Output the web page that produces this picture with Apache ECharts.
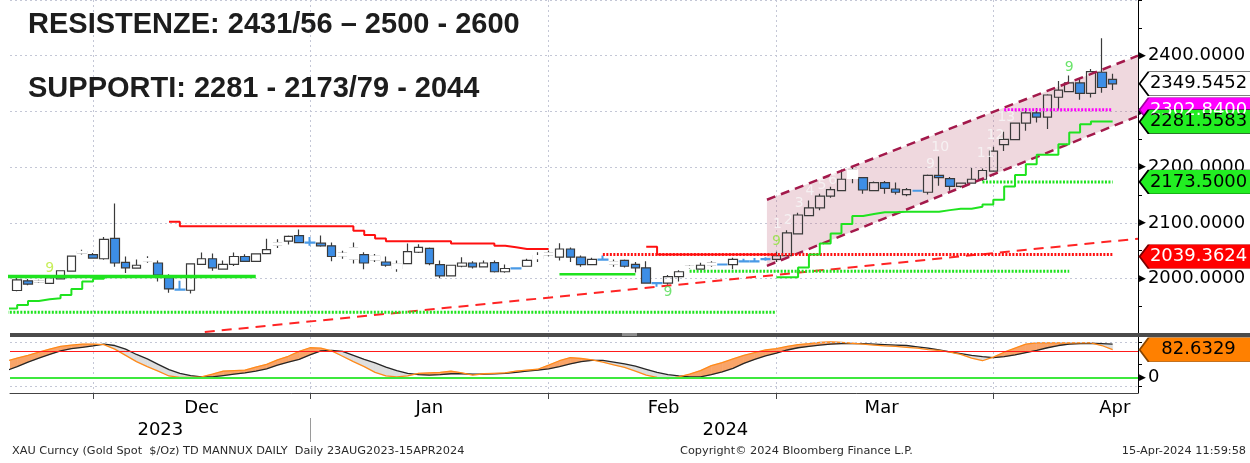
<!DOCTYPE html>
<html>
<head>
<meta charset="utf-8">
<script src="https://cdn.jsdelivr.net/npm/echarts@6/dist/echarts.min.js"></script>
<style>
html, body { margin: 0; padding: 0; background: #fff; }
#chart { width: 1250px; height: 463px; }
</style>
</head>
<body>
<div id="chart"></div>
<script>
'use strict';

// trading days on the chart (XAU daily), day 0 sits just left of the plot
var holidays = ['2023-12-25', '2024-01-01', '2024-03-29'];
var days = [];
(function() {
    var d = new Date(Date.UTC(2023, 10, 20));
    var last = Date.UTC(2024, 3, 15);
    while (d.getTime() <= last) {
        var s = d.toISOString().slice(0, 10);
        var wd = d.getUTCDay();
        if (wd !== 0 && wd !== 6 && holidays.indexOf(s) < 0) days.push(s);
        d.setUTCDate(d.getUTCDate() + 1);
    }
})();

// OHLC, one value per day (index = day)
var opens = [null,
    1978.5, 1995.9, 1994.5, 1991.3, 1999.4, 2013.4, 2046, 2043.1, 2035.5, 2072.2,
    2029.1, 2018.6, 2031.5, 2027.9, 2001.7, 1980.2, 1979, 2025.6, 2035.5, 2016.9,
    2025.6, 2039.6, 2030.9, 2044.8, 2060, 2067, 2076.9, 2064.6, 2063.5, 2058.8,
    2041, 2035, 2043.1, 2034, 2029.7, 2018, 2026.8, 2047.2, 2054.1, 2025,
    2004.7, 2022.1, 2027.9, 2021, 2028.5, 2012.2, 2018.5, 2022.1, 2036, 2043,
    2038.4, 2053, 2038.4, 2025, 2034, 2026, 2032.6, 2025.6, 2019.2, 1991.8,
    1991.8, 2003.5, 2020, 2016.9, 2024, 2025.3, 2025, 2030.9, 2030.9, 2035,
    2034.3, 2041.3, 2080.3, 2112.9, 2126.9, 2147.9, 2157.8, 2180, 2181.1, 2157.8,
    2172.3, 2160.7, 2150.8, 2157.8, 2154.9, 2185.1, 2179.3, 2165.3, 2171.2, 2178.2,
    2192.7, 2240.4, 2249.2, 2278.9, 2297.5, 2289.9, 2325.4, 2335.4, 2351.1, 2332.4,
    2370.3, 2357.5];
var closes = [null,
    1997.7, 1990.1, 1995.5, 2001.7, 2014, 2040.2, 2048.5, 2036.7, 2070.4, 2027.9,
    2019.2, 2023.9, 2035.5, 2006.4, 1981.4, 1979.8, 2026.2, 2035.5, 2019.2, 2025.6,
    2039.6, 2030.9, 2044.2, 2051.8, 2064, 2075.7, 2064.6, 2064.3, 2058.8, 2039.6,
    2045, 2055, 2027.9, 2040, 2023.9, 2026, 2048.3, 2055.9, 2026.8, 2004.7,
    2023.9, 2027.9, 2021, 2027.9, 2012.2, 2018, 2018.2, 2032.6, 2041, 2046,
    2053, 2038.4, 2025, 2034.3, 2033.6, 2030, 2022.1, 2019.2, 1991.8, 1991.5,
    2003.5, 2012.2, 2022, 2023.9, 2027.5, 2025, 2034.3, 2030.6, 2030.6, 2034.6,
    2041.3, 2082.1, 2114.1, 2126.9, 2147.9, 2159.5, 2178.2, 2195, 2158.9, 2172.3,
    2161.9, 2154.9, 2159.5, 2157.5, 2185.1, 2181.1, 2165.3, 2171.2, 2178.2, 2193.9,
    2228.8, 2249.8, 2278.9, 2297.5, 2289.9, 2329.5, 2338.3, 2351.1, 2332.4, 2371.4,
    2342.9, 2349.55];
var lows = [null,
    1977.3, 1987.8, 1992.4, 1990.1, 1998.3, 2012.2, 2043, 2035.5, 2033.8, 2021,
    2009.9, 2017.5, 2028.5, 1994.8, 1974.4, 1978, 1973.2, 2025, 2014, 2016.3,
    2022.7, 2029.7, 2030.3, 2044.2, 2054.7, 2061.1, 2064, 2058.8, 2057, 2030.9,
    2035.5, 2026.8, 2016.9, 2029.7, 2021, 2012.2, 2026.2, 2046, 2023.9, 2000.6,
    2004.1, 2020.4, 2018, 2020.4, 2011, 2010.5, 2017.5, 2021.5, 2029.7, 2040,
    2032.6, 2029.7, 2021, 2024.5, 2033, 2021, 2019.8, 2011, 1990.7, 1985.4,
    1988.9, 1994.8, 2018, 2016.3, 2021, 2024, 2016.9, 2030, 2030, 2032,
    2029.7, 2040.7, 2079.2, 2112.3, 2122.8, 2145, 2156.6, 2171, 2152, 2156.6,
    2152, 2151, 2147.9, 2156, 2150.8, 2166.5, 2157.8, 2163.6, 2170.6, 2175.2,
    2191.5, 2228.8, 2248.6, 2265.4, 2280, 2268.4, 2303.3, 2334.2, 2320.8, 2324.9,
    2333.6, 2338.3];
var highs = [null,
    2003.5, 1999.4, 1997.7, 2003.5, 2015, 2041.3, 2051.8, 2046, 2074.5, 2134.5,
    2039.6, 2034.3, 2040.2, 2032.6, 2007.6, 1995.9, 2027.4, 2046.6, 2044.8, 2032.6,
    2046.6, 2043.7, 2044.8, 2071.6, 2070.4, 2077.4, 2087.9, 2074.5, 2077.4, 2064.6,
    2050, 2064.6, 2047.2, 2044.2, 2039.6, 2032.6, 2062.9, 2061.7, 2055.9, 2032.6,
    2024.5, 2038.4, 2030.9, 2032.6, 2032.6, 2025, 2019, 2035.5, 2047.2, 2050,
    2063.5, 2055.9, 2041.3, 2037.3, 2041.3, 2034, 2034.3, 2029.7, 2030.9, 1992.3,
    2006.4, 2015.1, 2024, 2028.5, 2030.9, 2027, 2037.3, 2035.5, 2036.7, 2038,
    2048.3, 2086.7, 2118.2, 2140.3, 2152, 2164.8, 2195.6, 2202, 2182.2, 2174,
    2175.2, 2172.3, 2162.4, 2159, 2186.9, 2218.9, 2182.2, 2172.3, 2198.5, 2197.4,
    2236.4, 2263.7, 2280, 2306.2, 2306.2, 2330.7, 2354.6, 2364.5, 2358.6, 2376.1,
    2431.4, 2367.4];
// days drawn as a blue dash (doji) and days whose body is blanked out
var dojiDays = [16, 28, 47, 55, 60, 66, 68, 69, 70, 84];
var blankBodyDays = [3, 7, 13, 25, 31, 32, 34, 36, 49, 50, 56, 63, 65, 78];

// TD lines
var redStepStart = 15;
var redStepValues = [2102,
    2094, 2094, 2094, 2094, 2094, 2094, 2094, 2094, 2094, 2094, 2094, 2094, 2094, 2094, 2094, 2094,
    2086, 2078, 2072, 2067, 2067, 2067, 2067, 2067, 2067, 2063, 2063, 2063, 2063,
    2059, 2056, 2053, 2053, 2053, 2053];
var redStep2Start = 59;
var redStep2Values = [2057, 2043, 2043, 2043, 2043, 2043, 2043, 2043, 2043, 2043, 2043, 2043, 2043];
var greenStepStart = 0;
var greenStepValues = [1946.4, 1952.3, 1959.8, 1962.8, 1964.5, 1970.3, 1981.3, 1994.8, 1999.5, 2003.5];
var greenStep2Start = 71;
var greenStep2Values = [2002.3, 2002.3, 2019.7, 2043, 2062.9, 2081, 2097.8, 2112.3, 2115.8, 2118.8,
    2118.8, 2120, 2120, 2120, 2120, 2122.8, 2125.2, 2125.2, 2128.7, 2132.8,
    2141.5, 2165, 2186, 2205, 2222, 2222, 2241, 2262, 2277, 2282, 2282, 2281.56];
var greenLevelStart = [0, 51];
var greenLevelEnd = [23, 58];
var greenLevelValue = [2003.5, 2007.5];
var greenDotStart = [0, 63, 90];
var greenDotEnd = [71, 98, 102];
var greenDotValue = [1939.4, 2013, 2173.5];
var redDotStart = 55, redDotEnd = 102, redDotValue = 2043;
var pinkDotStart = 92, pinkDotEnd = 102, pinkDotValue = 2302.84;
var trendDays = [18.3, 104.34];
var trendValues = [1904, 2071.6];
var channelDays = [70.13, 104.34];
var channelUpper = [2141.5, 2400];
var channelLower = [2022.7, 2291.7];

// TD counts
var setupDays = [4, 61, 71, 98];
var setupPrice = [2018.7, 1974.3, 2066.4, 2379];
var countDays = [71.1, 72.1, 73.1, 74.1, 75.2, 76.2, 85.2, 86.1, 90.3, 91.2, 92.2];
var countPrice = [2096.6, 2104.3, 2134.5, 2156, 2166.5, 2176.4, 2204.4, 2235.3, 2224.5, 2257.6, 2289];
var countText = ['1', '2', '3', '4', '5', '6', '9', '10', '11', '12', '13'];

// last-value tags on the price axis
var tagValues = [2349.5452, 2302.84, 2281.5583, 2173.5, 2039.3624];
var oscTagValue = 82.6329;

// oscillator (slow = black, fast = orange), index = day
var oscSlow = [36, 45, 55, 64, 72, 80, 85, 88, 91, 95,
    92, 84, 72, 62, 50, 38, 30, 25, 22, 22,
    25, 28, 31, 35, 40, 48, 55, 61, 71, 80,
    81, 79, 70, 61, 53, 44, 36, 30, 27, 26,
    27, 29, 29, 28, 28, 29, 30, 32, 35, 37,
    40, 45, 51, 56, 59, 59, 55, 51, 46, 39,
    32, 27, 24, 22, 22, 27, 33, 41, 52, 61,
    69, 75, 82, 87, 90, 93, 95, 96, 96, 96,
    95, 94, 93, 92, 89, 86, 82, 78, 74, 70,
    67, 65, 67, 71, 76, 81, 87, 92, 95, 96,
    97, 96, 95];
var oscFast = [57, 64, 70, 77, 84, 90, 93, 95, 95, 94,
    84, 70, 56, 45, 35, 24, 21, 21, 22, 28,
    35, 36, 37, 44, 50, 60, 68, 79, 87, 86,
    80, 68, 56, 45, 32, 24, 22, 24, 30, 31,
    32, 35, 31, 26, 29, 30, 31, 35, 37, 39,
    48, 58, 65, 63, 60, 55, 49, 43, 35, 26,
    21, 18, 22, 28, 36, 47, 54, 62, 70, 76,
    82, 85, 90, 94, 96, 99, 100, 99, 97, 95,
    93, 91, 90, 88, 86, 83, 81, 77, 72, 64,
    58, 66, 77, 86, 95, 98, 98, 98, 98, 98,
    98, 92, 82.63];

// axis labels
var monthLabels = ['Dec', 'Jan', 'Feb', 'Mar', 'Apr'];
var monthLabelAt = [18, 39, 60.6, 80.7, 102.2];
var yearLabels = ['2023', '2024'];
var yearLabelAt = [14.2, 66.3];

var xMin = 0.34, xMax = 104.34;
var axisFont = 'DejaVu Sans';
var gridColor = '#c4c7d6';

drawChart();

function drawChart() {
    var chart = echarts.init(document.getElementById('chart'));

    var monthEnds = [];
    for (var i = 0; i < days.length - 1; i++) {
        if (days[i].substr(5, 2) !== days[i + 1].substr(5, 2)) monthEnds.push(i);
    }

    var candleData = [], blankData = [];
    for (var k = 1; k < days.length; k++) {
        var item = {value: [k, opens[k], closes[k], lows[k], highs[k]]};
        if (dojiDays.indexOf(k) >= 0) {
            item.itemStyle = {borderColor: '#4a9ae6', borderColor0: '#4a9ae6', borderWidth: 2};
        }
        candleData.push(item);
        if (blankBodyDays.indexOf(k) >= 0) {
            var lo = Math.min(opens[k], closes[k]), hi = Math.max(opens[k], closes[k]);
            blankData.push([k, opens[k], closes[k], lo, hi]);
        }
    }

    function steps(start, values) {
        return values.map(function(v, j) { return [start + j, v]; });
    }
    function seg(a, b, v) {
        return [[a, v], [b, v]];
    }
    function line(name, data, color, width, dash, extra) {
        var s = {
            name: name, type: 'line', xAxisIndex: 0, yAxisIndex: 0,
            data: data, symbol: 'none', showSymbol: false, z: 5, silent: true,
            lineStyle: {color: color, width: width, type: dash || 'solid', cap: 'butt'}
        };
        for (var key in extra) s[key] = extra[key];
        return s;
    }
    function nearest(v, at, labels) {
        for (var j = 0; j < at.length; j++) {
            if (Math.abs(at[j] - v) < 0.01) return labels[j];
        }
        return '';
    }

    var tagStyles = [
        {fill: '#ffffff', border: '#000000', text: '#000000'},
        {fill: '#ff00ff', border: '#a000a0', text: '#ffffff'},
        {fill: '#22ee22', border: '#000000', text: '#000000'},
        {fill: '#22ee22', border: '#000000', text: '#000000'},
        {fill: '#ff0000', border: '#7a0000', text: '#ffffff'}
    ];
    var tagPath = 'path://M0,12 L9,0 L112,0 L112,24 L9,24 Z';
    var tagLabel = {
        show: true, position: 'inside', offset: [3, 0],
        fontSize: 18, fontFamily: axisFont,
        formatter: function(p) { return Number(p.value).toFixed(4); }
    };

    var series = [];

    // pink channel fill
    series.push({
        name: 'channel', type: 'custom', xAxisIndex: 0, yAxisIndex: 0, z: 1, silent: true, clip: true,
        encode: {x: 0, y: 1},
        data: [[channelDays[0], channelLower[0]]],
        renderItem: function(params, api) {
            var pts = [
                api.coord([channelDays[0], channelUpper[0]]),
                api.coord([channelDays[1], channelUpper[1]]),
                api.coord([channelDays[1], channelLower[1]]),
                api.coord([channelDays[0], channelLower[0]])
            ];
            return {type: 'polygon', shape: {points: pts}, style: {fill: 'rgba(196,110,134,0.27)'}};
        }
    });

    series.push({
        name: 'XAU', type: 'candlestick', xAxisIndex: 0, yAxisIndex: 0,
        barWidth: 9, z: 3, silent: true,
        itemStyle: {
            color: 'rgba(255,255,255,0)', color0: '#3d8ee6',
            borderColor: '#3a3a3a', borderColor0: '#3a3a3a', borderWidth: 1.2
        },
        data: candleData
    });
    series.push({
        name: 'blank', type: 'candlestick', xAxisIndex: 0, yAxisIndex: 0,
        barWidth: 10, z: 4, silent: true,
        itemStyle: {color: '#ffffff', color0: '#ffffff', borderColor: '#ffffff', borderColor0: '#ffffff', borderWidth: 1.4},
        data: blankData
    });

    series.push(line('chanUp', [[channelDays[0], channelUpper[0]], [channelDays[1], channelUpper[1]]], '#a3194b', 2.5, [9, 6]));
    series.push(line('chanLow', [[channelDays[0], channelLower[0]], [channelDays[1], channelLower[1]]], '#a3194b', 2.5, [9, 6]));

    series.push(line('trend', [[trendDays[0], trendValues[0]], [trendDays[1], trendValues[1]]], '#ff2424', 2, [10, 7]));
    series.push(line('redStep', steps(redStepStart, redStepValues), '#ff1010', 2, null, {step: 'end'}));
    series.push(line('redDot', seg(redDotStart, redDotEnd, redDotValue), '#ff1010', 3, [2, 1.5]));
    series.push(line('redStep2', steps(redStep2Start, redStep2Values), '#ff1010', 2, null, {step: 'end'}));

    for (var g = 0; g < greenDotValue.length; g++) {
        series.push(line('greenDot' + g, seg(greenDotStart[g], greenDotEnd[g], greenDotValue[g]), '#1fe31f', 3, [2, 1.5]));
    }
    series.push(line('greenLevel0', seg(greenLevelStart[0], greenLevelEnd[0], greenLevelValue[0]), '#1fe31f', 3.5));
    series.push(line('greenLevel1', seg(greenLevelStart[1], greenLevelEnd[1], greenLevelValue[1]), '#1fe31f', 2.5));
    series.push(line('greenStep', steps(greenStepStart, greenStepValues), '#1fe31f', 2, null, {step: 'end'}));
    series.push(line('greenStep2', steps(greenStep2Start, greenStep2Values), '#1fe31f', 2, null, {step: 'end'}));

    series.push(line('pinkDot', seg(pinkDotStart, pinkDotEnd, pinkDotValue), '#ff00ff', 3, [2, 1.5], {
        markPoint: {
            symbol: tagPath, symbolSize: [112, 24], symbolOffset: [58, 0], symbolKeepAspect: false,
            silent: true, label: tagLabel,
            data: tagValues.map(function(v, j) {
                return {
                    coord: [xMax - 0.04, v], value: v,
                    itemStyle: {color: tagStyles[j].fill, borderColor: tagStyles[j].border, borderWidth: 1},
                    label: {color: tagStyles[j].text}
                };
            })
        }
    }));

    // TD setup "9" and count numbers
    var setupColors = ['#b9ea2e', '#4fdc4f', '#8fe43a', '#45dd45'];
    series.push({
        type: 'scatter', xAxisIndex: 0, yAxisIndex: 0, z: 6, silent: true,
        symbolSize: 1, itemStyle: {color: 'rgba(0,0,0,0)'},
        label: {show: true, position: 'inside', fontSize: 14, fontFamily: axisFont, formatter: '{b}'},
        data: setupDays.map(function(d, j) {
            return {name: '9', value: [d, setupPrice[j]], label: {color: setupColors[j]}};
        })
    });
    series.push({
        type: 'scatter', xAxisIndex: 0, yAxisIndex: 0, z: 6, silent: true,
        symbolSize: 1, itemStyle: {color: 'rgba(0,0,0,0)'},
        label: {show: true, position: 'inside', fontSize: 14, fontFamily: axisFont, color: '#f7f7f7', formatter: '{b}'},
        data: countDays.map(function(d, j) {
            return {name: countText[j], value: [d, countPrice[j]]};
        })
    });

    // oscillator panel: fill between the two lines, orange when fast is above
    var slowPts = [], fastPts = [], segData = [];
    for (var t = 0; t < oscSlow.length; t++) {
        slowPts.push([t, oscSlow[t]]);
        fastPts.push([t, oscFast[t]]);
        if (t < oscSlow.length - 1) segData.push([t, oscSlow[t]]);
    }
    series.push({
        name: 'oscFill', type: 'custom', xAxisIndex: 1, yAxisIndex: 1, z: 3, silent: true, clip: true,
        encode: {x: 0, y: 1},
        data: segData,
        renderItem: function(params, api) {
            var n = params.dataIndex;
            var s0 = oscSlow[n], s1 = oscSlow[n + 1], f0 = oscFast[n], f1 = oscFast[n + 1];
            var d0 = f0 - s0, d1 = f1 - s1;
            var children = [];
            function poly(pts, up) {
                var fill = up ? '#f9a468' : '#dedede';
                children.push({
                    type: 'polygon',
                    shape: {points: pts.map(function(p) { return api.coord(p); })},
                    style: {fill: fill, stroke: fill, lineWidth: 0.6}
                });
            }
            if (d0 * d1 >= 0) {
                poly([[n, f0], [n + 1, f1], [n + 1, s1], [n, s0]], d0 + d1 > 0);
            } else {
                var r = d0 / (d0 - d1);
                var xc = n + r, yc = s0 + r * (s1 - s0);
                poly([[n, f0], [xc, yc], [n, s0]], d0 > 0);
                poly([[xc, yc], [n + 1, f1], [n + 1, s1]], d1 > 0);
            }
            return {type: 'group', children: children};
        }
    });
    series.push({
        name: 'slow', type: 'line', xAxisIndex: 1, yAxisIndex: 1, data: slowPts,
        symbol: 'none', showSymbol: false, silent: true, z: 4,
        lineStyle: {color: '#262626', width: 1.3}
    });
    series.push({
        name: 'fast', type: 'line', xAxisIndex: 1, yAxisIndex: 1, data: fastPts,
        symbol: 'none', showSymbol: false, silent: true, z: 4,
        lineStyle: {color: '#ff8a1a', width: 1.3},
        markLine: {
            silent: true, symbol: ['none', 'none'], label: {show: false},
            data: [
                {yAxis: 100, lineStyle: {color: gridColor, width: 1, type: [2, 3]}},
                {yAxis: 0, lineStyle: {color: gridColor, width: 1, type: [2, 3]}},
                {yAxis: 80, lineStyle: {color: '#ff1a1a', width: 1.2, type: 'solid'}},
                {yAxis: 20, lineStyle: {color: '#3ee83e', width: 2, type: 'solid'}}
            ]
        },
        markPoint: {
            symbol: tagPath, symbolSize: [112, 24], symbolOffset: [58, 0], symbolKeepAspect: false,
            silent: true, label: tagLabel,
            data: [{
                coord: [xMax - 0.04, oscTagValue], value: oscTagValue,
                itemStyle: {color: '#ff8000', borderColor: '#8a4500', borderWidth: 1},
                label: {color: '#000'}
            }]
        }
    });

    var triRich = {
        t: {fontSize: 9, color: '#000', padding: [0, 2, 0, 0]},
        v: {fontSize: 18, fontFamily: axisFont, color: '#000'}
    };
    var titleStyle = {fontSize: 29, fontWeight: 'bold', fontFamily: 'Liberation Sans', color: '#1d1d1d'};
    var footStyle = {fontSize: 11.3, fontWeight: 'normal', fontFamily: axisFont, color: '#2a2a2a'};

    var option = {
        animation: false,
        backgroundColor: '#ffffff',
        textStyle: {fontFamily: axisFont},
        title: [
            {text: 'RESISTENZE: 2431/56 – 2500 - 2600', left: 28, top: 10, padding: 0, textStyle: titleStyle},
            {text: 'SUPPORTI: 2281 - 2173/79 - 2044', left: 28, top: 74, padding: 0, textStyle: titleStyle},
            {text: 'XAU Curncy (Gold Spot  $/Oz) TD MANNUX DAILY  Daily 23AUG2023-15APR2024', left: 12, top: 446, padding: 0, textStyle: footStyle},
            {text: 'Copyright© 2024 Bloomberg Finance L.P.', left: 680, top: 446, padding: 0, textStyle: footStyle},
            {text: '15-Apr-2024 11:59:58', right: 4, top: 446, padding: 0, textStyle: footStyle}
        ],
        grid: [
            {left: 10, right: 112, top: -9.25, height: 343.5},
            {left: 10, right: 112, top: 337, height: 56}
        ],
        xAxis: [
            {
                gridIndex: 0, type: 'value', min: xMin, max: xMax,
                axisLine: {show: false, onZero: false},
                axisTick: {show: false, customValues: monthEnds},
                axisLabel: {show: false},
                splitLine: {show: true, lineStyle: {color: gridColor, type: [2, 3]}}
            },
            {
                gridIndex: 1, type: 'value', min: xMin, max: xMax, position: 'bottom',
                axisLine: {show: true, onZero: false, lineStyle: {color: '#444', width: 1}},
                axisTick: {show: true, customValues: monthEnds, length: 6, lineStyle: {color: '#444'}},
                axisLabel: {
                    customValues: monthLabelAt, margin: 6, fontSize: 18, fontFamily: axisFont, color: '#000',
                    formatter: function(v) { return nearest(v, monthLabelAt, monthLabels); }
                },
                splitLine: {show: true, lineStyle: {color: gridColor, type: [2, 3]}}
            },
            {
                gridIndex: 1, type: 'value', min: xMin, max: xMax, position: 'bottom', offset: 25,
                axisLine: {show: false, onZero: false},
                axisTick: {show: true, customValues: [monthEnds[1]], length: 24, lineStyle: {color: '#9a9a9a'}},
                axisLabel: {
                    customValues: yearLabelAt, margin: 3, fontSize: 18, fontFamily: axisFont, color: '#000',
                    formatter: function(v) { return nearest(v, yearLabelAt, yearLabels); }
                },
                splitLine: {show: false}
            }
        ],
        yAxis: [
            {
                gridIndex: 0, type: 'value', position: 'right', min: 1900, max: 2500, interval: 100,
                axisLine: {show: true, onZero: false, lineStyle: {color: '#000', width: 1}},
                axisTick: {show: true, length: 4, lineStyle: {color: '#000'}},
                minorTick: {show: true, splitNumber: 2, length: 4, lineStyle: {color: '#000'}},
                axisLabel: {
                    margin: 1, rich: triRich,
                    formatter: function(v) {
                        return (v >= 2000 && v <= 2400) ? '{t|▶}{v|' + v.toFixed(4) + '}' : '';
                    }
                },
                splitLine: {show: true, lineStyle: {color: gridColor, type: [2, 3]}}
            },
            {
                gridIndex: 1, type: 'value', position: 'right', min: -14, max: 111,
                axisLine: {show: true, onZero: false, lineStyle: {color: '#000', width: 1}},
                axisTick: {show: true, length: 4, customValues: [0, 50, 100], lineStyle: {color: '#000'}},
                axisLabel: {
                    margin: 1, rich: triRich, customValues: [0], verticalAlign: 'bottom',
                    formatter: function() { return '{t|▶}{v|0}'; }
                },
                splitLine: {show: false}
            }
        ],
        graphic: [
            {type: 'rect', shape: {x: 10, y: 333, width: 1240, height: 4}, style: {fill: '#4b4b4b'}, z: 50, silent: true},
            {type: 'rect', shape: {x: 622, y: 333, width: 15, height: 3}, style: {fill: '#8c8c8c'}, z: 51, silent: true}
        ],
        series: series
    };

    chart.setOption(option);
}
</script>
</body>
</html>
